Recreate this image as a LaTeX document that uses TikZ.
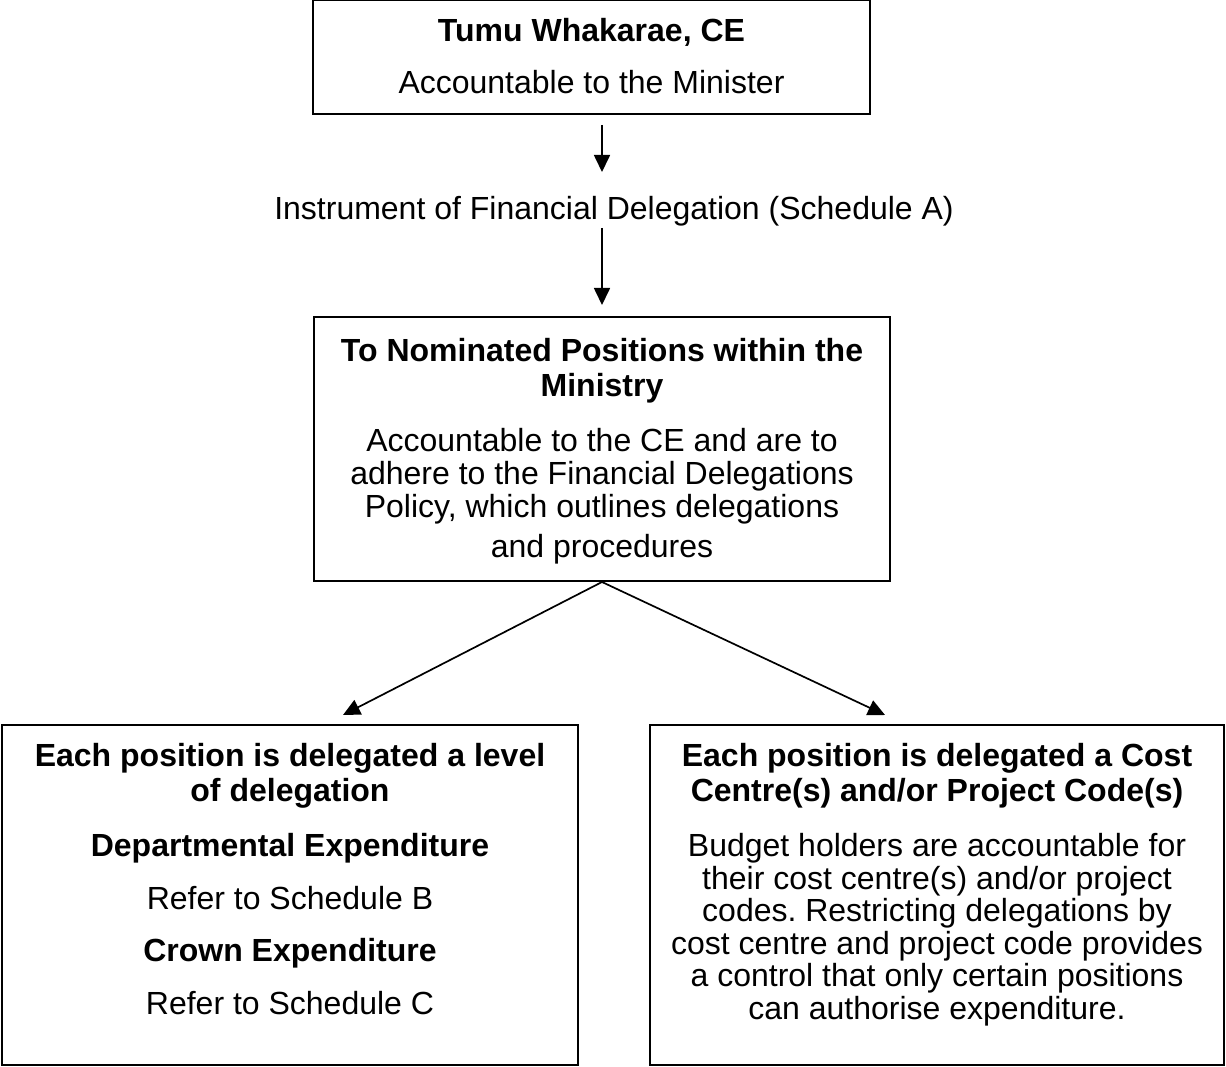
\documentclass[tikz,border=0pt]{standalone}
\usepackage{fontspec}
\setmainfont{Liberation Sans}
\usetikzlibrary{arrows.meta}
\frenchspacing
\begin{document}
\begin{tikzpicture}[x=1pt,y=1pt,
  box/.style={draw=black,line width=2pt,inner sep=0pt},
  txt/.style={anchor=base,inner sep=0pt,font=\fontsize{32}{34}\selectfont},
  btxt/.style={txt,font=\fontsize{32}{34}\selectfont\bfseries},
  conn/.style={line width=1.7pt,-{Triangle[length=17pt,width=16pt]}}]
\useasboundingbox (0,0) rectangle (1226,-1067);
% boxes
\node[box,minimum width=557,minimum height=114] (top) at (591.5,-57) {};
\node[box,minimum width=576,minimum height=264] (mid) at (602,-449) {};
\node[box,minimum width=576,minimum height=340] (left) at (290,-895) {};
\node[box,minimum width=574,minimum height=340] (right) at (937,-895) {};
% top texts
\node[btxt] (t1) at (591.5,-41.5) {Tumu Whakarae, CE};
\node[txt] (t2) at (591.5,-93.5) {Accountable to the Minister};
\node[txt] (instr) at (614,-219.5) {Instrument of Financial Delegation (Schedule A)};
% middle texts
\node[btxt] (m1) at (602,-361.5) {To Nominated Positions within the};
\node[btxt] (m2) at (602,-396.5) {Ministry};
\node[txt] (m3) at (602,-451.5) {Accountable to the CE and are to};
\node[txt] (m4) at (602,-484.5) {adhere to the Financial Delegations};
\node[txt] (m5) at (602,-517) {Policy, which outlines delegations};
\node[txt] (m6) at (602,-557) {and procedures};
% left texts
\node[btxt] (l1) at (290,-766.5) {Each position is delegated a level};
\node[btxt] (l2) at (290,-801.5) {of delegation};
\node[btxt] (l3) at (290,-856.5) {Departmental Expenditure};
\node[txt] (l4) at (290,-909.5) {Refer to Schedule B};
\node[btxt] (l5) at (290,-961.5) {Crown Expenditure};
\node[txt] (l6) at (290,-1014.5) {Refer to Schedule C};
% right texts
\node[btxt] (r1) at (937,-766.5) {Each position is delegated a Cost};
\node[btxt] (r2) at (937,-801.5) {Centre(s) and/or Project Code(s)};
\node[txt] (r3) at (937,-856.5) {Budget holders are accountable for};
\node[txt] (r4) at (937,-889) {their cost centre(s) and/or project};
\node[txt] (r5) at (937,-921.5) {codes. Restricting delegations by};
\node[txt] (r6) at (937,-954) {cost centre and project code provides};
\node[txt] (r7) at (937,-986.5) {a control that only certain positions};
\node[txt] (r8) at (937,-1019) {can authorise expenditure.};
% connectors
\coordinate (a1s) at (602,-125);
\coordinate (a1e) at (602,-172);
\coordinate (a2s) at (602,-228);
\coordinate (a2e) at (602,-305);
\coordinate (lt) at (343,-715);
\coordinate (rt) at (885,-715);
\draw[conn] (a1s) -- (a1e);
\draw[conn] (a2s) -- (a2e);
\draw[conn] (mid.south) -- (lt);
\draw[conn] (mid.south) -- (rt);
\end{tikzpicture}
\end{document}
